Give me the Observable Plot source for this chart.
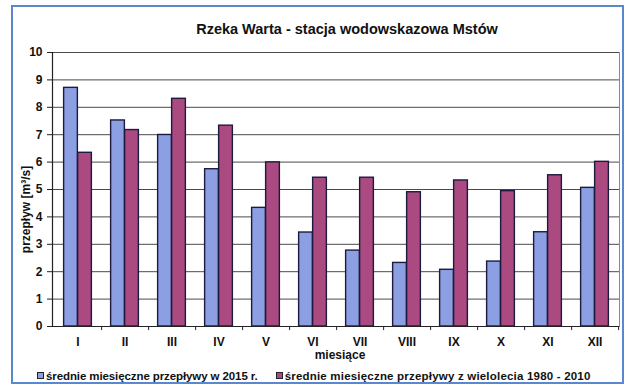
<!DOCTYPE html>
<html><head><meta charset="utf-8">
<script src="https://cdn.jsdelivr.net/npm/d3@7"></script>
<script src="https://cdn.jsdelivr.net/npm/@observablehq/plot@0.6"></script>
<style>
body{margin:0;background:#fff;}
#wrap{position:relative;width:627px;height:385px;overflow:hidden;font-family:Arial,"Liberation Sans",sans-serif;background:#fff;}
#border{position:absolute;left:11px;top:5px;width:613px;height:379px;border:2px solid #5b86d0;box-sizing:border-box;pointer-events:none;}
#title{position:absolute;left:0;width:694px;top:21px;text-align:center;font-weight:bold;font-size:14.5px;color:#111;line-height:16px;}
#chart{position:absolute;left:0;top:0;}
#legend{position:absolute;left:37px;top:368px;font-size:11.5px;font-weight:bold;color:#111;white-space:nowrap;line-height:14px;}
#legend span.item{display:inline-flex;align-items:center;}
#legend span.sw{display:inline-block;width:5px;height:5px;border:1px solid #222;margin-right:2px;}
</style></head>
<body>
<div id="wrap">
  <div id="chart"></div>
  <div id="title">Rzeka Warta - stacja wodowskazowa Mstów</div>
  <div id="legend"></div>
  <div id="border"></div>
</div>
<script>
const months = ["I","II","III","IV","V","VI","VII","VIII","IX","X","XI","XII"];
const flow2015 = [8.71,7.52,6.99,5.74,4.33,3.43,2.77,2.32,2.07,2.37,3.44,5.06];
const flowLongTerm = [6.34,7.17,8.31,7.33,5.99,5.43,5.43,4.90,5.33,4.94,5.52,6.01];
const yTicks = [0,1,2,3,4,5,6,7,8,9,10];
const seriesNames = ["średnie miesięczne przepływy w 2015 r.","średnie miesięczne przepływy z wielolecia 1980 - 2010"];
const seriesColors = ["#8d9fe3","#ab4a80"];

const rows2015 = months.map((m,i)=>({month:m, value:flow2015[i]}));
const rowsLong = months.map((m,i)=>({month:m, value:flowLongTerm[i]}));

const W = 627, H = 385, mL = 52, mR = 8, mT = 52, mB = 59;
const bw = (W - mL - mR) / months.length;
const barW = 14;
const side = (bw - 2*barW)/2;

const chart = Plot.plot({
  width: W, height: H,
  marginLeft: mL, marginRight: mR, marginTop: mT, marginBottom: mB,
  style: {fontFamily: "Arial, 'Liberation Sans', sans-serif", background: "transparent", color:"#111"},
  x: {domain: months, padding: 0, axis: null},
  y: {domain: [0,10], axis: null},
  marks: [
    Plot.ruleY(yTicks.slice(1), {stroke:"#4a4a4a", strokeWidth:1}),
    Plot.frame({anchor:"right", stroke:"#8a8a8a"}),
    Plot.barY(rows2015, {x:"month", y:"value", fill:seriesColors[0], stroke:"#1c1b3e", strokeWidth:1.4, insetLeft: side, insetRight: side + barW}),
    Plot.barY(rowsLong, {x:"month", y:"value", fill:seriesColors[1], stroke:"#1c1b3e", strokeWidth:1.4, insetLeft: side + barW, insetRight: side}),
    Plot.ruleY([0], {stroke:"#222", strokeWidth:1.2}),
    Plot.frame({anchor:"left", stroke:"#222", strokeWidth:1.2}),
    Plot.ruleX(months, {x: d=>d, dx: bw/2, y1: 0, y2: -0.15, stroke:"#222"}),
    Plot.axisY(yTicks, {anchor:"left", tickSize:5, tickPadding:5, fontSize:12, fontWeight:"bold", label:null, stroke:"#222"}),
    Plot.axisX(months, {anchor:"bottom", tickSize:0, tickPadding:11, fontSize:12, fontWeight:"bold", label:null}),
    Plot.text(["miesiące"], {frameAnchor:"bottom", text:d=>d, dy:29, dx:4, lineAnchor:"middle", fontSize:12, fontWeight:"bold"}),
    Plot.text(["przepływ [m³/s]"], {frameAnchor:"left", text:d=>d, rotate:-90, dx:-26, dy:20, lineAnchor:"middle", textAnchor:"middle", fontSize:12, fontWeight:"bold"})
  ]
});
document.getElementById("chart").appendChild(chart);

const legend = document.getElementById("legend");
seriesNames.forEach((name,i)=>{
  const item = document.createElement("span");
  item.className = "item";
  if (i>0) { item.style.marginLeft = "18px"; item.style.letterSpacing = "0.2px"; }
  else { item.style.letterSpacing = "-0.1px"; }
  const sw = document.createElement("span");
  sw.className = "sw";
  sw.style.background = seriesColors[i];
  item.appendChild(sw);
  item.appendChild(document.createTextNode(name));
  legend.appendChild(item);
});
</script>
</body></html>
